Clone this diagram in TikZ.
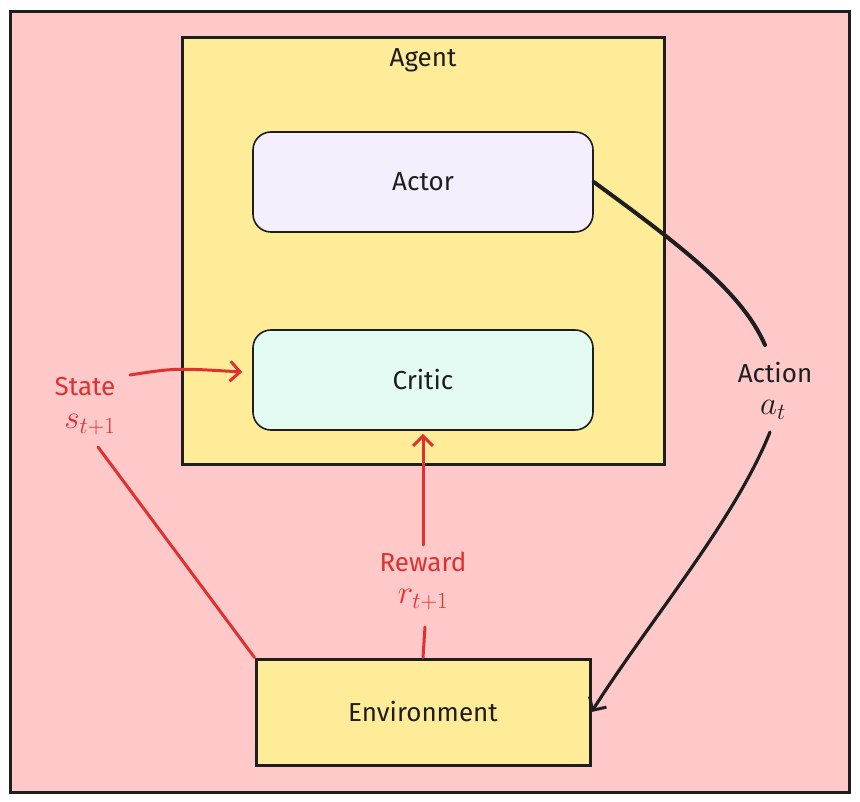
\RequirePackage{fix-cm}
\documentclass[tikz,border=0pt]{standalone}
\usepackage{fontspec}
\setmainfont{Fira Sans}
\usetikzlibrary{arrows.meta}
\definecolor{pinkbg}{HTML}{FFC9C9}
\definecolor{yel}{HTML}{FFEC99}
\definecolor{lav}{HTML}{F5EFFD}
\definecolor{mint}{HTML}{E4FBF3}
\definecolor{redc}{HTML}{E03131}
\definecolor{ink}{HTML}{1E1E1E}
\tikzset{
  box/.style={draw=ink, line width=3pt, inner sep=0pt},
  roundbox/.style={draw=ink, line width=1.6pt, rounded corners=18pt, inner sep=0pt,
    minimum width=340pt, minimum height=100pt},
  lbl/.style={font=\fontsize{26}{30}\selectfont, text=ink, inner sep=0pt},
  rlbl/.style={font=\fontsize{26}{30}\selectfont, text=redc, inner sep=0pt},
  mlbl/.style={font=\fontsize{33}{38}\selectfont, inner sep=0pt},
  blackconn/.style={draw=ink, line width=4pt, line cap=round},
  redconn/.style={draw=redc, line width=3pt, line cap=round},
  tip/.style={-{Straight Barb[length=10pt,width=20pt,line width=3pt]}}
}
\begin{document}
\begin{tikzpicture}[x=1pt,y=-1pt]
\useasboundingbox (0,0) rectangle (860,802);
\fill[white] (0,0) rectangle (860,802);
\node[box, fill=pinkbg, minimum width=839pt, minimum height=780pt] (outer) at (430,402) {};
\node[box, fill=yel, minimum width=482pt, minimum height=426pt] (agent) at (423,251) {};
\node[lbl] (agentlbl) at (423,60) {Agent};
\node[roundbox, fill=lav, lbl] (actor) at (423,182) {Actor};
\node[roundbox, fill=mint, lbl] (critic) at (423,380) {Critic};
\node[box, fill=yel, minimum width=334pt, minimum height=106pt, lbl] (env) at (423,712) {Environment};

% Action
\node[lbl] (actlbl) at (775,373) {Action};
\node[mlbl, text=ink] (actmath) at (773,410) {$a_t$};
\coordinate (actA) at (765,345);
\coordinate (actB) at (770,432);
\draw[blackconn] (actor.east) .. controls (680,245) and (742,292) .. (actA);
\draw[blackconn, line width=3.2pt, tip] (actB) .. controls (735,520) and (650,620) .. (env.east);

% State
\node[rlbl] (stlbl) at (85,387) {State};
\node[mlbl, text=redc] (stmath) at (90,425) {$s_{t+1}$};
\coordinate (stA) at (130,375);
\coordinate (stB) at (98,447);
\draw[redconn, tip] (stA) .. controls (175,368) .. ([xshift=-10pt,yshift=8pt]critic.west);
\draw[redconn] (stB) -- (env.north west);

% Reward
\node[rlbl] (rwlbl) at (423,562) {Reward};
\node[mlbl, text=redc] (rwmath) at (423,600) {$r_{t+1}$};
\coordinate (rwA) at (425,627);
\coordinate (rwB) at (423,545);
\draw[redconn] (env.north) -- (rwA);
\draw[redconn, tip] (rwB) -- ([yshift=-3pt]critic.south);
\end{tikzpicture}
\end{document}
